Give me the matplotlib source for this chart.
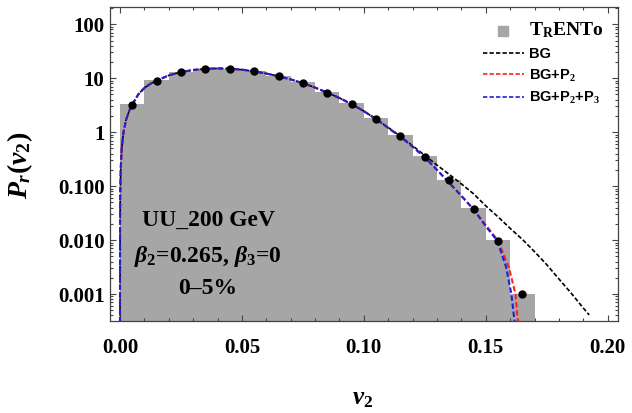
import numpy as np
import matplotlib
matplotlib.use("Agg")
import matplotlib.pyplot as plt
from matplotlib.lines import Line2D
from matplotlib.ticker import LogLocator, MultipleLocator, NullFormatter

plt.rcParams['font.family'] = ['Liberation Serif', 'DejaVu Serif']
plt.rcParams['mathtext.fontset'] = 'custom'
plt.rcParams['mathtext.rm'] = 'Liberation Serif:bold'
plt.rcParams['mathtext.it'] = 'Liberation Serif:italic:bold'
plt.rcParams['mathtext.bf'] = 'Liberation Serif:bold'

# TRENTo histogram, bins of width 0.01 starting at 0
bin_left = [0.00, 0.01, 0.02, 0.03, 0.04, 0.05, 0.06, 0.07, 0.08,
            0.09, 0.10, 0.11, 0.12, 0.13, 0.14, 0.15, 0.16]
hist_p = [3.3, 9.3, 13.0, 14.8, 14.9, 13.5, 11.0, 8.4, 5.6,
          3.5, 1.8, 0.88, 0.36, 0.13, 0.04, 0.01, 0.001]

# event-by-event points at bin centres
pts_v = [0.005, 0.015, 0.025, 0.035, 0.045, 0.055, 0.065, 0.075, 0.085,
         0.095, 0.105, 0.115, 0.125, 0.135, 0.145, 0.155, 0.165]
pts_p = [3.2, 8.9, 12.9, 14.8, 14.8, 13.4, 10.8, 8.0, 5.4,
         3.3, 1.75, 0.85, 0.35, 0.13, 0.038, 0.0098, 0.00098]

# common part of the fits (all three coincide here)
fit_v = [0.0000005, 0.00003, 0.0001, 0.0003, 0.0007, 0.0014, 0.0025, 0.004,
         0.005, 0.0075, 0.01, 0.0125, 0.015, 0.02, 0.025, 0.03, 0.035, 0.04,
         0.045, 0.05, 0.055, 0.06, 0.065, 0.07, 0.075, 0.08, 0.085, 0.09,
         0.095, 0.10, 0.105]
fit_p = [3e-4, 0.02, 0.07, 0.21, 0.49, 0.98, 1.7, 2.65,
         3.25, 5.0, 6.6, 7.9, 9.0, 11.3, 13.0, 14.2, 14.9, 15.2,
         15.0, 14.4, 13.4, 12.2, 10.9, 9.5, 8.1, 6.7, 5.4, 4.3,
         3.3, 2.45, 1.75]

# tails
bg_v = [0.105, 0.11, 0.115, 0.12, 0.125, 0.13, 0.135, 0.14, 0.145, 0.15,
        0.155, 0.16, 0.165, 0.17, 0.175, 0.18, 0.185, 0.19, 0.1924]
bg_p = [1.75, 1.22, 0.84, 0.56, 0.37, 0.245, 0.165, 0.11, 0.072, 0.043,
        0.027, 0.0165, 0.0103, 0.0061, 0.0035, 0.0019, 0.00104, 0.00055, 0.00041]

p2_v = [0.105, 0.11, 0.115, 0.12, 0.125, 0.13, 0.135, 0.14, 0.145, 0.15,
        0.155, 0.1594, 0.1622, 0.163, 0.1633]
p2_p = [1.75, 1.2, 0.82, 0.54, 0.34, 0.20, 0.115, 0.066, 0.037, 0.019,
        0.0098, 0.0032, 0.001, 3.7e-4, 3.1e-4]

p3_v = [0.105, 0.11, 0.115, 0.12, 0.125, 0.13, 0.135, 0.14, 0.145, 0.15,
        0.1547, 0.1583, 0.1605, 0.1616, 0.1619]
p3_p = [1.75, 1.2, 0.82, 0.54, 0.34, 0.20, 0.115, 0.066, 0.037, 0.018,
        0.0097, 0.0032, 0.001, 3.7e-4, 3.1e-4]

gray = '#a6a6a6'
red = '#ff2020'
blue = '#2020d8'

fig = plt.figure(figsize=(6.32, 4.13), dpi=100)
ax = fig.add_axes([110/632, 1-321/413, 507.7/632, 314/413])

ax.bar(bin_left, hist_p, width=0.01, align='edge', color=gray,
       edgecolor='none', bottom=1e-5, zorder=1)

dash = (2.6, 1.3)
ax.plot(fit_v + bg_v[1:], fit_p + bg_p[1:], color='black', lw=1.2,
        dashes=dash, zorder=2)
ax.plot(fit_v + p2_v[1:], fit_p + p2_p[1:], color=red, lw=1.5,
        dashes=dash, zorder=3)
ax.plot(fit_v + p3_v[1:], fit_p + p3_p[1:], color=blue, lw=1.5,
        dashes=dash, zorder=4)
ax.plot(pts_v, pts_p, 'o', color='black', ms=5, zorder=5)

ax.set_yscale('log')
ax.set_xlim(-0.0041, 0.2041)
ax.set_ylim(10**-3.5, 10**2.32)

ax.set_xticks([0.0, 0.05, 0.10, 0.15, 0.20])
ax.set_xticklabels(['0.00', '0.05', '0.10', '0.15', '0.20'])
ax.xaxis.set_minor_locator(MultipleLocator(0.01))
ax.set_yticks([1e2, 1e1, 1, 0.1, 0.01, 0.001])
ax.set_yticklabels(['100', '10', '1', '0.100', '0.010', '0.001'])
ax.yaxis.set_minor_locator(LogLocator(base=10, subs=np.arange(2, 10)))
ax.yaxis.set_minor_formatter(NullFormatter())

spine_col = '#444444'
for s in ax.spines.values():
    s.set_color(spine_col)
    s.set_linewidth(0.9)
ax.tick_params(which='both', direction='in', top=True, right=True,
               color=spine_col, width=0.8)
ax.tick_params(which='major', length=4.5)
ax.tick_params(which='minor', length=2.5)
ax.tick_params(axis='x', which='major', labelsize=15, pad=12)
ax.tick_params(axis='y', which='major', labelsize=15, pad=4)
for lab in ax.get_xticklabels() + ax.get_yticklabels():
    lab.set_fontweight('bold')

fig.text(20/632, 1-165/413, r'$P_r(v_2)$', rotation=90, ha='center',
         va='center', fontsize=20)
fig.text(363/632, 1-399/413, r'$v_2$', ha='center', va='center', fontsize=18)

ax.text(0.193, 0.322, 'UU_200 GeV', transform=ax.transAxes, ha='center',
        va='center', fontsize=17, fontweight='bold')
ax.text(0.193, 0.205, r'$\beta_2$=0.265, $\beta_3$=0', transform=ax.transAxes,
        ha='center', va='center', fontsize=17, fontweight='bold')
ax.text(0.193, 0.105, '0\u20135%', transform=ax.transAxes, ha='center',
        va='center', fontsize=17, fontweight='bold')

handles = [Line2D([], [], marker='s', ls='none', color=gray, ms=7),
           Line2D([], [], color='black', lw=1.2, dashes=dash),
           Line2D([], [], color=red, lw=1.2, dashes=dash),
           Line2D([], [], color=blue, lw=1.2, dashes=dash)]
labels = [r'T$_\mathrm{R}$ENTo', 'BG', r'BG+P$_2$', r'BG+P$_2$+P$_3$']
leg = ax.legend(handles, labels, loc='upper left',
                bbox_to_anchor=(367/507.7, 0.975), frameon=False,
                handlelength=2.8, handletextpad=0.35, labelspacing=0.45,
                borderaxespad=0.0,
                prop={'family': 'Liberation Sans', 'weight': 'bold',
                      'size': 10.5})
leg.get_texts()[0].set_fontfamily('Liberation Serif')
leg.get_texts()[0].set_fontsize(14)

fig.savefig('out.png', dpi=100)
